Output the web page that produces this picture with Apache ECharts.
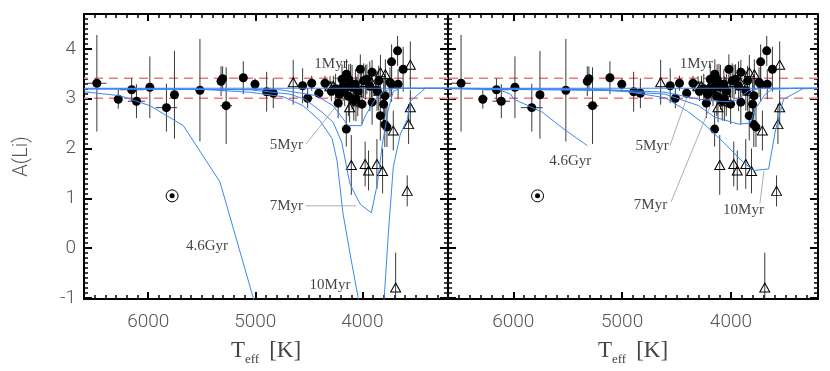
<!DOCTYPE html>
<html><head><meta charset="utf-8">
<script src="https://cdn.jsdelivr.net/npm/echarts@6/dist/echarts.min.js"></script>
<style>html,body{margin:0;padding:0;background:#fff}#c{width:830px;height:371px}</style>
</head><body><div id="c"></div>
<script>
// ---------- tick labels ----------
const xMajorTicks = [4000, 5000, 6000];
const yMajorTicks = [-1, 0, 1, 2, 3, 4];

// ---------- observations: [Teff, A(Li), errTeff, errA] ----------
const detections = [
  [6480,3.31,90,0.97],[6280,2.99,0,0.19],[6155,3.18,110,0.23],[6110,2.95,80,0.34],
  [5985,3.23,0,0.62],[5830,2.82,100,0.48],[5755,3.08,0,0.88],[5517,3.17,0,1.03],
  [5320,3.35,0,0.30],[5305,3.40,0,0.25],[5272,2.86,55,0.77],[5112,3.42,0,0.33],
  [5003,3.29,0,0.12],[4894,3.14,0,0.40],[4832,3.11,0,0.30],[4558,3.26,0,0.35],
  [4511,3.01,0,0.20],[4473,3.31,0,0.15],[4407,3.11,0,0.10],[4349,3.31,0,0.15],
  [4226,2.91,0,0.30],[4215,3.09,0,0.20],[4190,3.39,0,0.30],[4180,3.25,0,0.30],
  [4165,3.20,0,0.35],[4148,3.49,0,0.30],[4150,2.39,0,0.35],[4127,3.39,0,0.30],
  [4110,3.30,0,0.40],[4096,3.23,0,0.45],[4080,2.96,0,0.40],[4065,3.29,0,0.30],
  [4040,3.15,0,0.35],[4019,3.59,0,0.30],[4003,2.89,0,0.40],[3988,3.36,0,0.35],
  [3958,3.39,0,0.30],[3909,3.53,0,0.25],[3909,2.93,0,0.45],[3863,3.16,0,0.40],
  [3847,3.36,0,0.30],[3832,2.66,0,0.50],[3801,2.89,0,0.50],[3789,3.06,0,0.40],
  [3770,2.43,0,0.40],[3790,2.48,0,0.45],[3742,3.33,0,0.30],[3727,3.29,0,0.35],
  [3727,3.74,0,0.35],[3671,3.96,0,0.30],[3619,3.59,0,0.45],[3666,3.29,0,0.30],
  [4250,3.20,0,0.30],[4290,3.15,0,0.20],[4200,3.13,0,0.30],[4130,3.05,0,0.40],
  [4060,3.00,0,0.45],[3930,3.25,0,0.50]
];
// upper limits: [Teff, A(Li), errA]
const upperLimits = [
  [4646,3.33,0.45],[4302,3.25,0.20],[4271,3.26,0.20],[3972,3.33,0.35],
  [3785,3.49,0.30],[3847,3.16,0.40],[3552,3.68,0.47],[3552,2.83,0.35],
  [3568,2.49,0.40],[3711,2.36,0.40],[4103,1.67,0.60],[3974,1.69,0.45],
  [3942,1.56,0.40],[3864,1.69,0.50],[3811,1.55,0.45],[3581,1.15,0.31],
  [3689,-0.79,0.70],[4119,2.83,0.30],[4043,2.95,0.30],[4052,3.13,0.30],
  [4006,3.33,0.30],[3914,3.33,0.30],[3831,3.53,0.35]
];
const sunPoint = [[5777, 1.05]];
const refLevels = [3.41, 3.01];

// ---------- models, left panel ----------
const left1Myr = [[6600,3.21],[3200,3.21]];
const left5Myr = [[6600,3.20],[4769,3.18],[4426,3.06],[4274,2.86],[4181,2.60],[4134,2.46],[4009,2.46],[3972,2.66],[3879,2.99],[3785,3.16],[3692,3.21],[3200,3.21]];
const left7Myr = [[6600,3.20],[5049,3.18],[4676,3.09],[4536,2.99],[4377,2.73],[4274,2.53],[4193,2.13],[4116,1.29],[4019,0.88],[3916,0.71],[3860,1.29],[3813,2.09],[3757,2.79],[3711,3.15],[3645,3.21],[3200,3.21]];
const left10Myr = [[6600,3.20],[5517,3.19],[5049,3.13],[4741,3.04],[4554,2.86],[4396,2.56],[4283,2.20],[4237,1.76],[4181,0.70],[4116,-0.10],[4041,-0.97],[4000,-1.60],[3820,-1.60],[3795,-0.97],[3757,0.30],[3711,1.63],[3645,2.29],[3580,2.59],[3552,2.95],[3412,3.21],[3200,3.21]];
const left46Gyr = [[6600,3.14],[6264,3.06],[5984,2.86],[5673,2.46],[5330,1.33],[4992,-1.20]];

// ---------- models, right panel ----------
const right1Myr = [[6600,3.21],[3200,3.21]];
const right5Myr = [[6600,3.21],[5230,3.19],[4606,3.13],[4296,2.99],[4055,2.94],[3963,2.96],[3899,3.05],[3838,3.16],[3716,3.21],[3200,3.21]];
const right7Myr = [[6600,3.21],[5230,3.18],[4606,3.09],[4296,2.86],[4150,2.63],[3929,2.49],[3823,2.51],[3777,2.79],[3685,3.09],[3624,3.19],[3400,3.21],[3200,3.21]];
const right10Myr = [[6600,3.20],[5000,3.16],[4606,3.02],[4400,2.75],[4250,2.50],[4070,2.13],[3900,1.75],[3792,1.56],[3654,1.59],[3594,2.33],[3517,2.99],[3339,3.20],[3200,3.21]];
const right46Gyr = [[6600,3.21],[6131,3.18],[6025,3.09],[5994,2.99],[5734,2.73],[5535,2.39],[5321,2.06]];

// ---------- annotations ----------
const leftLabels = [['1Myr',4293,3.69],['5Myr',4709,2.07],['7Myr',4709,0.85],['10Myr',4302,-0.75],['4.6Gyr',5451,0.05]];
const rightLabels = [['1Myr',4317,3.69],['5Myr',4725,2.05],['7Myr',4739,0.87],['10Myr',3885,0.77],['4.6Gyr',5477,1.75]];
const leftLeaders = [[[4526,2.09],[4246,2.85]],[[4526,0.85],[4056,0.85]]];
const rightLeaders = [[[4560,2.06],[4404,3.03]],[[4550,0.93],[4193,2.83]],[[3734,0.89],[3697,1.55]]];

// ---------- build ----------
const X_MIN = 3200, X_MAX = 6600, Y_MIN = -1.02, Y_MAX = 4.7;
const xMinor = []; for (let v = 3300; v < 6600; v += 100) if (v % 1000) xMinor.push(v);
const yMinor = []; for (let k = -10; k <= 47; k++) if (k % 10) yMinor.push(k / 10);

const tickFont = {fontFamily:'Roboto, DejaVu Sans, sans-serif', fontWeight:300, fontSize:19, color:'#555'};
const serif = 'Liberation Serif, DejaVu Serif, serif';

function xAxes(g) {
  const base = {gridIndex:g, type:'value', min:X_MIN, max:X_MAX, inverse:true, splitLine:{show:false}};
  const line = {show:true, onZero:false, lineStyle:{color:'#000', width:2}};
  return [
    Object.assign({}, base, {position:'bottom', axisLine:line,
      axisTick:{show:true, inside:true, length:7, customValues:xMajorTicks, lineStyle:{color:'#000', width:2}},
      axisLabel:Object.assign({show:true, customValues:xMajorTicks, margin:14, formatter: v => String(v)}, tickFont),
      name:'{t|T}{s|eff}{g| }{t|[K]}', nameLocation:'middle', nameGap:37,
      nameTextStyle:{rich:{
        t:{fontFamily:serif, fontSize:23, color:'#444', lineHeight:30, verticalAlign:'middle'},
        s:{fontFamily:serif, fontSize:13, color:'#444', lineHeight:30, verticalAlign:'bottom'},
        g:{width:10}
      }}}),
    Object.assign({}, base, {position:'bottom', axisLine:{show:false, onZero:false},
      axisTick:{show:true, inside:true, length:4, customValues:xMinor, lineStyle:{color:'#000', width:1.5}},
      axisLabel:{show:false}}),
    Object.assign({}, base, {position:'top', axisLine:line,
      axisTick:{show:true, inside:true, length:7, customValues:xMajorTicks, lineStyle:{color:'#000', width:2}},
      axisLabel:{show:false}}),
    Object.assign({}, base, {position:'top', axisLine:{show:false, onZero:false},
      axisTick:{show:true, inside:true, length:4, customValues:xMinor, lineStyle:{color:'#000', width:1.5}},
      axisLabel:{show:false}})
  ];
}
function yAxes(g, labels) {
  const base = {gridIndex:g, type:'value', min:Y_MIN, max:Y_MAX, splitLine:{show:false}};
  const line = {show:true, onZero:false, lineStyle:{color:'#000', width:2}};
  const major = {show:true, inside:true, length:8, customValues:yMajorTicks, lineStyle:{color:'#000', width:2}};
  const minor = {show:true, inside:true, length:4, customValues:yMinor, lineStyle:{color:'#000', width:1.5}};
  const left = Object.assign({}, base, {position:'left', axisLine:line, axisTick:major,
    axisLabel: labels ? Object.assign({show:true, customValues:yMajorTicks, margin:8}, tickFont) : {show:false}});
  if (labels) Object.assign(left, {name:'A(Li)', nameLocation:'middle', nameGap:52,
    nameTextStyle:{fontFamily:'Roboto, DejaVu Sans, sans-serif', fontWeight:300, fontSize:20, color:'#555'}});
  return [
    left,
    Object.assign({}, base, {position:'left', axisLine:{show:false, onZero:false}, axisTick:minor, axisLabel:{show:false}}),
    Object.assign({}, base, {position:'right', axisLine:line, axisTick:major, axisLabel:{show:false}}),
    Object.assign({}, base, {position:'right', axisLine:{show:false, onZero:false}, axisTick:minor, axisLabel:{show:false}})
  ];
}

function errRender(params, api) {
  const x = api.value(0), y = api.value(1), ex = api.value(2), ey = api.value(3);
  const cs = params.coordSys;
  const cy = v => Math.max(cs.y, Math.min(cs.y + cs.height, v));
  const c = api.coord([x, y]);
  const t = api.coord([x, y + ey]), b = api.coord([x, y - ey]);
  const st = {stroke:'#3a3a3a', lineWidth:1};
  const ch = [{type:'line', shape:{x1:c[0], y1:cy(t[1]), x2:c[0], y2:cy(b[1])}, style:st}];
  if (ex > 0) {
    const l = api.coord([x - ex, y]), r = api.coord([x + ex, y]);
    ch.push({type:'line', shape:{x1:l[0], y1:c[1], x2:r[0], y2:c[1]}, style:st});
  }
  return {type:'group', children:ch};
}

function panelSeries(g, models, labels, leaders) {
  const ax = {xAxisIndex:g*4, yAxisIndex:g*4};
  const s = [];
  refLevels.forEach(v => s.push(Object.assign({type:'line', data:[[X_MIN,v],[X_MAX,v]], symbol:'none', silent:true, z:1,
    lineStyle:{color:'#f07878', width:1.5, type:[9,6]}}, ax)));
  s.push(Object.assign({type:'custom', renderItem:errRender, z:2, silent:true,
    dimensions:['x','y','ex','ey'], encode:{x:0, y:1},
    data:detections.map(d => [d[0], d[1], d[2], d[3]]).concat(upperLimits.map(d => [d[0], d[1], 0, d[2]]))}, ax));
  s.push(Object.assign({type:'scatter', symbol:'circle', symbolSize:9, z:3, silent:true,
    itemStyle:{color:'#000', opacity:1}, data:detections.map(d => [d[0], d[1]])}, ax));
  s.push(Object.assign({type:'scatter', symbol:'triangle', symbolSize:[10,9], z:3, silent:true,
    itemStyle:{color:'rgba(0,0,0,0)', borderColor:'#000', borderWidth:1, opacity:1}, data:upperLimits.map(d => [d[0], d[1]])}, ax));
  s.push(Object.assign({type:'scatter', symbol:'circle', symbolSize:12, z:3, silent:true,
    itemStyle:{color:'rgba(0,0,0,0)', borderColor:'#000', borderWidth:1, opacity:1}, data:sunPoint}, ax));
  s.push(Object.assign({type:'scatter', symbol:'circle', symbolSize:5, z:3, silent:true,
    itemStyle:{color:'#000', opacity:1}, data:sunPoint}, ax));
  models.forEach(m => s.push(Object.assign({type:'line', data:m, symbol:'none', silent:true, z:4, clip:true,
    lineStyle:{color:'#3d86f2', width:1}}, ax)));
  leaders.forEach(l => s.push(Object.assign({type:'line', data:l, symbol:'none', silent:true, z:4,
    lineStyle:{color:'#999', width:0.8}}, ax)));
  s.push(Object.assign({type:'scatter', symbolSize:0, z:5, silent:true,
    data:labels.map(l => ({name:l[0], value:[l[1], l[2]]})),
    label:{show:true, position:'inside', formatter:'{b}', fontFamily:serif, fontSize:15, color:'#111'}}, ax));
  return s;
}

const chart = echarts.init(document.getElementById('c'), null, {renderer:'canvas'});
chart.setOption({
  animation:false,
  backgroundColor:'#fff',
  grid:[
    {left:84, top:14, width:364, height:286},
    {left:448, top:14, width:370, height:286}
  ],
  xAxis: xAxes(0).concat(xAxes(1)),
  yAxis: yAxes(0, true).concat(yAxes(1, false)),
  series: panelSeries(0, [left1Myr, left5Myr, left7Myr, left10Myr, left46Gyr], leftLabels, leftLeaders)
    .concat(panelSeries(1, [right1Myr, right5Myr, right7Myr, right10Myr, right46Gyr], rightLabels, rightLeaders))
});
</script></body></html>
